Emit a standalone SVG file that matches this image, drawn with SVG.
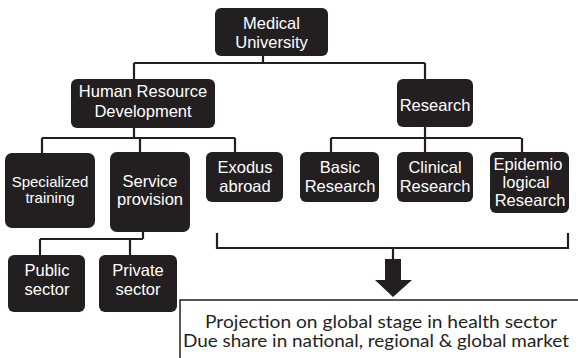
<svg xmlns="http://www.w3.org/2000/svg" width="578" height="358" viewBox="0 0 578 358">
<style>
.box{fill:#231f20;}
.t{fill:#ffffff;font-family:"Liberation Sans",Arial,sans-serif;font-size:16.5px;text-anchor:middle;}
.ts{font-size:15px;}
.c{stroke:#231f20;stroke-width:2.2;fill:none;}
.bt{fill:#231f20;font-family:Lato,"Open Sans",sans-serif;font-size:17px;text-anchor:middle;}
</style>
<rect width="578" height="358" fill="#ffffff"/>
<g id="connectors">
<path class="c" d="M263 56V63M134 63H425M134 63V79M425 63V79"/>
<path class="c" d="M134 128V138M42 138H235M42 138V153M140 138V152M235 138V152"/>
<path class="c" d="M425 127V138M331 138H521M331 138V152M425 138V152M522 138V152"/>
<path class="c" d="M143 232V239M40 239H143M40 239V255M130 239V255"/>
<path class="c" d="M217 233V248H568V233M393 248V259"/>
<polygon points="385,259 401,259 401,280 412,280 393,297 375,280 385,280" fill="#231f20"/>
</g>
<g id="medical-university">
<rect class="box" x="215" y="8" width="113" height="48" rx="6"/>
<text class="t" x="271.5" y="29">Medical</text>
<text class="t" x="271.5" y="48">University</text>
</g>
<g id="hrd">
<rect class="box" x="71" y="79" width="144" height="49" rx="6"/>
<text class="t" x="143" y="97">Human Resource</text>
<text class="t" x="143" y="117">Development</text>
</g>
<g id="research">
<rect class="box" x="397" y="79" width="76" height="48" rx="6"/>
<text class="t" x="435" y="111">Research</text>
</g>
<g id="specialized-training">
<rect class="box" x="5" y="153" width="90" height="75" rx="7"/>
<text class="t ts" x="50" y="187">Specialized</text>
<text class="t ts" x="50" y="203">training</text>
</g>
<g id="service-provision">
<rect class="box" x="110" y="152" width="80" height="80" rx="7"/>
<text class="t" x="150" y="187">Service</text>
<text class="t" x="150" y="205">provision</text>
</g>
<g id="exodus-abroad">
<rect class="box" x="206" y="152" width="77" height="50" rx="6"/>
<text class="t" x="245" y="173">Exodus</text>
<text class="t" x="245" y="192">abroad</text>
</g>
<g id="basic-research">
<rect class="box" x="300" y="152" width="79" height="50" rx="6"/>
<text class="t" x="340" y="173">Basic</text>
<text class="t" x="340" y="192">Research</text>
</g>
<g id="clinical-research">
<rect class="box" x="397" y="152" width="76" height="50" rx="6"/>
<text class="t" x="435" y="173">Clinical</text>
<text class="t" x="435" y="192">Research</text>
</g>
<g id="epidemiological-research">
<rect class="box" x="490" y="152" width="79" height="61" rx="6"/>
<text class="t" x="528" y="170">Epidemio</text>
<text class="t" x="526" y="188">logical</text>
<text class="t" x="530" y="206">Research</text>
</g>
<g id="public-sector">
<rect class="box" x="8" y="255" width="77" height="57" rx="6"/>
<text class="t" x="47" y="276">Public</text>
<text class="t" x="47" y="295">sector</text>
</g>
<g id="private-sector">
<rect class="box" x="99" y="255" width="78" height="57" rx="6"/>
<text class="t" x="138" y="276">Private</text>
<text class="t" x="138" y="295">sector</text>
</g>
<g id="projection">
<rect x="180" y="300" width="420" height="80" fill="#ffffff" stroke="#231f20" stroke-width="1.5"/>
<text class="bt" x="381" y="328" textLength="352" lengthAdjust="spacingAndGlyphs">Projection on global stage in health sector</text>
<text class="bt" x="376" y="347" textLength="386" lengthAdjust="spacingAndGlyphs">Due share in national, regional &amp; global market</text>
</g>
</svg>
